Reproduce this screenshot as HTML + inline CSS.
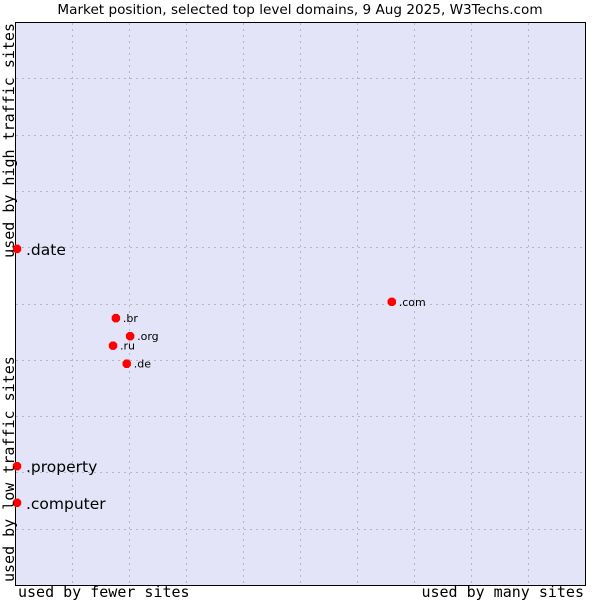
<!DOCTYPE html>
<html><head><meta charset="utf-8"><style>
body{margin:0;background:#fff;}
svg{display:block;}
</style></head><body>
<svg width="600" height="600" viewBox="0 0 600 600">
<text x="300" y="14" text-anchor="middle" font-family="DejaVu Sans, Liberation Sans, sans-serif" font-size="13.6" fill="#000">Market position, selected top level domains, 9 Aug 2025, W3Techs.com</text>
<rect x="15.5" y="22.5" width="570" height="563" fill="#e3e4f8" stroke="#000" stroke-width="1"/>
<g id="grid"></g>
<g id="marks"></g>
<text x="18" y="597" font-family="DejaVu Sans Mono, Liberation Mono, monospace" font-size="15" fill="#000">used by fewer sites</text>
<text x="584" y="597" text-anchor="end" font-family="DejaVu Sans Mono, Liberation Mono, monospace" font-size="15" fill="#000">used by many sites</text>
<text transform="translate(14,23) rotate(-90)" text-anchor="end" font-family="DejaVu Sans Mono, Liberation Mono, monospace" font-size="15" fill="#000">used by high traffic sites</text>
<text transform="translate(14,582) rotate(-90)" font-family="DejaVu Sans Mono, Liberation Mono, monospace" font-size="15" fill="#000">used by low traffic sites</text>
</svg>
<script>
const labels = [".date", ".com", ".br", ".org", ".ru", ".de", ".property", ".computer"];
const xValues = [0.35, 66.1, 17.7, 20.2, 17.2, 19.6, 0.35, 0.35];
const yValues = [59.7, 50.3, 47.4, 44.2, 42.5, 39.3, 21.1, 14.6];
const bigLabel = [true, false, false, false, false, false, true, true];
const X0 = 15, X1 = 585, Y0 = 585, Y1 = 22;
function xs(v){return X0 + (X1 - X0) * v / 100;}
function ys(v){return Y0 - (Y0 - Y1) * v / 100;}
const NS = "http://www.w3.org/2000/svg";
const grid = document.getElementById('grid');
for (let i = 1; i < 10; i++) {
  const gx = Math.round(xs(i * 10)) + 0.5, gy = Math.round(ys(i * 10)) + 0.5;
  const v = document.createElementNS(NS, 'line');
  
  
  v.setAttribute('x1', gx); v.setAttribute('x2', gx); v.setAttribute('y1', Y1 + 1); v.setAttribute('y2', Y0);
  v.setAttribute('stroke', '#b8b8b8'); v.setAttribute('stroke-dasharray', '2,4');
  grid.appendChild(v);
  const h = document.createElementNS(NS, 'line');
  
  
  h.setAttribute('y1', gy); h.setAttribute('y2', gy); h.setAttribute('x1', X0 + 1); h.setAttribute('x2', X1);
  h.setAttribute('stroke', '#b8b8b8'); h.setAttribute('stroke-dasharray', '2,4');
  grid.appendChild(h);
}
const marks = document.getElementById('marks');
labels.forEach((lab, i) => {
  const cx = xs(xValues[i]), cy = ys(yValues[i]);
  const p = document.createElementNS(NS, 'polygon');
  
  
  p.setAttribute('points', `${cx-2},${cy-5} ${cx+2},${cy-5} ${cx+5},${cy-2} ${cx+5},${cy+2} ${cx+2},${cy+5} ${cx-2},${cy+5} ${cx-5},${cy+2} ${cx-5},${cy-2}`);
  p.setAttribute('transform', `rotate(45 ${cx} ${cy}) translate(${cx} ${cy}) scale(0.85) translate(${-cx} ${-cy})`);
  p.setAttribute('fill', '#ff0000');
  marks.appendChild(p);
  const t = document.createElementNS(NS, 'text');
  
  
  t.setAttribute('x', cx + (bigLabel[i] ? 9 : 7));
  t.setAttribute('y', cy + (bigLabel[i] ? 6 : 4));
  t.setAttribute('font-family', 'DejaVu Sans, Liberation Sans, sans-serif');
  t.setAttribute('font-size', bigLabel[i] ? '15.5' : '11');
  t.setAttribute('fill', '#000');
  t.textContent = lab;
  marks.appendChild(t);
});
</script>
</body></html>
